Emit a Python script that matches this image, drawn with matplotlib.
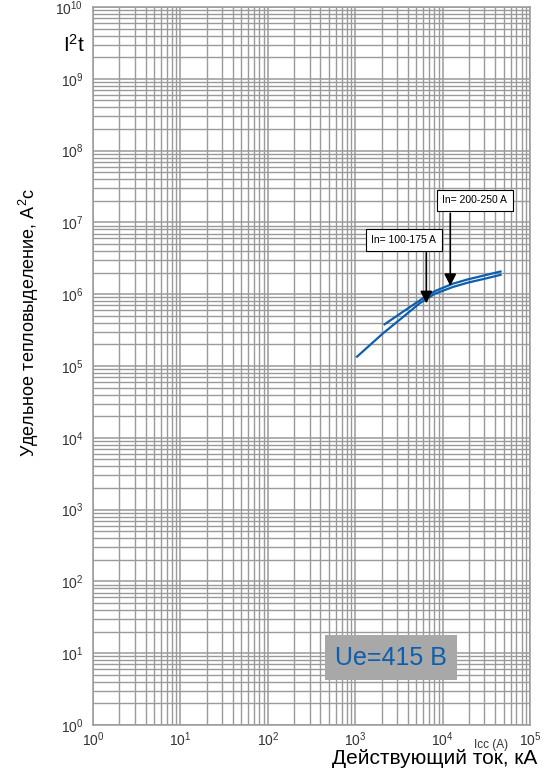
import numpy as np
import matplotlib
matplotlib.use('Agg')
import matplotlib.pyplot as plt
from matplotlib.ticker import LogLocator, NullFormatter
from matplotlib.patches import Rectangle

plt.rcParams['font.family'] = ['Liberation Sans', 'DejaVu Sans']
plt.rcParams['mathtext.default'] = 'regular'

# data
curve_100_175_x = [1050, 2080, 3520, 5460, 8110, 13100, 19500, 30200, 46000]
curve_100_175_y = [1.35e5, 2.85e5, 4.8e5, 7.46e5, 1.01e6, 1.26e6, 1.45e6, 1.64e6, 1.86e6]
curve_200_250_x = [2170, 3520, 5960, 8110, 13100, 19500, 30200, 46000]
curve_200_250_y = [3.81e5, 5.70e5, 8.77e5, 1.10e6, 1.40e6, 1.61e6, 1.83e6, 2.07e6]

labels = ['In= 100-175 A', 'In= 200-250 A']
label_pos = [(3.6e3, 10**6.752), (2.34e4, 10**7.308)]   # box centres
arrow_x = [6510, 12240]
arrow_from = [10**6.578, 10**7.127]
arrow_to = [10**5.873, 10**6.114]

blue = '#0b5fae'
grid_col = '#9a9a9a'

fig = plt.figure(figsize=(5.46, 7.78), dpi=100)
ax = fig.add_axes([93/546, 1 - 725/778, 437/546, 718/778])
ax.set_xscale('log')
ax.set_yscale('log')
ax.set_xlim(1, 1e5)
ax.set_ylim(1, 1e10)

ax.xaxis.set_major_locator(LogLocator(base=10, numticks=20))
ax.yaxis.set_major_locator(LogLocator(base=10, numticks=20))
ax.xaxis.set_minor_locator(LogLocator(base=10, subs=np.arange(2, 10), numticks=50))
ax.yaxis.set_minor_locator(LogLocator(base=10, subs=np.arange(2, 10), numticks=50))
ax.xaxis.set_minor_formatter(NullFormatter())
ax.yaxis.set_minor_formatter(NullFormatter())

ax.grid(which='major', color=grid_col, linewidth=1.1)
ax.grid(which='minor', color=grid_col, linewidth=1.0)
ax.set_axisbelow(True)
for s in ax.spines.values():
    s.set_color(grid_col)
    s.set_linewidth(1.1)
ax.tick_params(which='both', length=0, labelsize=10, colors='#333333')
ax.tick_params(axis='x', pad=4)
ax.tick_params(axis='y', pad=7)

ax.plot(curve_100_175_x, curve_100_175_y, color=blue, linewidth=1.6)
ax.plot(curve_200_250_x, curve_200_250_y, color=blue, linewidth=1.6)

for lab, (cx, cy), axx, y0, y1 in zip(labels, label_pos, arrow_x, arrow_from, arrow_to):
    ax.annotate('', xy=(axx, y1), xytext=(axx, y0),
                arrowprops=dict(arrowstyle='-|>', color='black', lw=1.2,
                                mutation_scale=18, shrinkA=0, shrinkB=0))
    ax.text(cx, cy, lab, fontsize=7.5, ha='center', va='center',
            bbox=dict(boxstyle='square,pad=0.55', facecolor='white',
                      edgecolor='black', linewidth=0.8), zorder=5)

# Ue box
ax.add_patch(Rectangle((0.531, 0.0627), 0.303, 0.0623, transform=ax.transAxes,
                       facecolor='#a8a8a8', edgecolor='none', zorder=4))
ax.text(0.6825, 0.094, 'Ue=415 B', transform=ax.transAxes, fontsize=18,
        color=blue, ha='center', va='center', zorder=5)

fig.text(63/546, 1 - 45/778, 'I$^2$t', fontsize=15, va='center', ha='left')
fig.text(29/546, 1 - 322/778, 'Удельное тепловыделение, А$^2$с', rotation=90,
         fontsize=13, ha='center', va='center')
fig.text(537/546, 1 - 759/778, 'Действующий ток, кА', fontsize=15,
         ha='right', va='center')
fig.text(491/546, 1 - 745/778, 'Icc (A)', fontsize=8.5, ha='center', va='center',
         color='#333333')

fig.savefig('out.png', dpi=100)
